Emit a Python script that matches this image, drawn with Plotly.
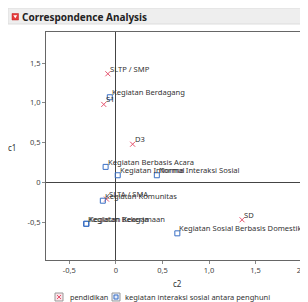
import plotly.graph_objects as go

# pendidikan (red x)
pend_labels = ["SD", "SLTP / SMP", "SLTA / SMA", "D3", "S1"]
pend_c2 = [1.355, -0.086, -0.10, 0.18, -0.13]
pend_c1 = [-0.47, 1.365, -0.21, 0.48, 0.98]

# kegiatan interaksi sosial antara penghuni (blue squares)
keg_labels = ["Kegiatan Berdagang", "Kegiatan Berbasis Acara", "Kegiatan Informal",
              "Norma Interaksi Sosial", "Kegiatan Komunitas", "Kegiatan Bekerja",
              "Kegiatan Keagamaan", "Kegiatan Sosial Berbasis Domestik"]
keg_c2 = [-0.065, -0.11, 0.02, 0.44, -0.14, -0.32, -0.315, 0.66]
keg_c1 = [1.07, 0.195, 0.09, 0.09, -0.23, -0.52, -0.52, -0.64]

legend_names = ["pendidikan", "kegiatan interaksi sosial antara penghuni"]

xtick_vals = [-0.5, 0, 0.5, 1.0, 1.5, 2.0]
xtick_text = ["-0,5", "0", "0,5", "1,0", "1,5", "2,0"]
ytick_vals = [-0.5, 0, 0.5, 1.0, 1.5]
ytick_text = ["-0,5", "0", "0,5", "1,0", "1,5"]

# page body has an 8px margin: figure is placed at (8, 8) in the window
OFF = 8
W, H = 300, 294
ML, MR, MT, MB = 38, 4, 24, 42
PW, PH = W - ML - MR, H - MT - MB

RED = "#e5546f"
BLUE = "#3a6fc4"


def px(x):
    # x given in window pixels
    return (x - OFF - ML) / PW


def py(y):
    return (H - MB - (y - OFF)) / PH


FONT = "Noto Sans"
lab_font = dict(family=FONT, size=7.6, color="#333333")

fig = go.Figure()
fig.add_trace(go.Scatter(
    x=pend_c2, y=pend_c1, mode="markers", name=legend_names[0],
    marker=dict(symbol="x-thin-open", size=5, color=RED, line=dict(width=1, color=RED)),
    cliponaxis=False, showlegend=False,
))
fig.add_trace(go.Scatter(
    x=keg_c2, y=keg_c1, mode="markers", name=legend_names[1],
    marker=dict(symbol="square-open", size=5, color=BLUE, line=dict(width=1, color=BLUE)),
    cliponaxis=False, showlegend=False,
))

annotations = []
for lx, ly, lt in list(zip(pend_c2, pend_c1, pend_labels)) + list(zip(keg_c2, keg_c1, keg_labels)):
    annotations.append(dict(x=lx, y=ly, xref="x", yref="y", text=lt, showarrow=False,
                            xanchor="left", yanchor="bottom", xshift=0, yshift=-2,
                            font=lab_font))

# title bar text
annotations.append(dict(text="<b>Correspondence Analysis</b>", xref="paper", yref="paper",
                        x=px(20), y=py(16.5), xanchor="left", yanchor="middle", showarrow=False,
                        font=dict(family=FONT, size=10, color="#222222")))
# axis titles
annotations.append(dict(text="c2", xref="paper", yref="paper", x=px(177), y=py(283),
                        xanchor="center", yanchor="middle", showarrow=False,
                        font=dict(family=FONT, size=8, color="#333333")))
annotations.append(dict(text="c1", xref="paper", yref="paper", x=px(12), y=py(147),
                        xanchor="center", yanchor="middle", showarrow=False,
                        font=dict(family=FONT, size=8, color="#333333")))
# legend texts
annotations.append(dict(text=legend_names[0], xref="paper", yref="paper", x=px(68), y=py(297),
                        xanchor="left", yanchor="middle", showarrow=False,
                        font=dict(family=FONT, size=7.3, color="#333333")))
annotations.append(dict(text=legend_names[1], xref="paper", yref="paper", x=px(123), y=py(297),
                        xanchor="left", yanchor="middle", showarrow=False,
                        font=dict(family=FONT, size=7.5, color="#333333")))

shapes = [
    # title bar
    dict(type="rect", xref="paper", yref="paper", x0=px(8), x1=px(308), y0=py(24), y1=py(8),
         fillcolor="#eeeeee", line=dict(color="#dddddd", width=1), layer="below"),
    dict(type="rect", xref="paper", yref="paper", x0=px(12), x1=px(18.5), y0=py(20), y1=py(13.5),
         fillcolor="#e53a3a", line=dict(color="#c02020", width=0.5)),
    dict(type="path", xref="paper", yref="paper",
         path=f"M {px(13.3)} {py(15.3)} L {px(17.2)} {py(15.3)} L {px(15.25)} {py(18.3)} Z",
         fillcolor="white", line=dict(width=0)),
    # legend boxes
    dict(type="rect", xref="paper", yref="paper", x0=px(55), x1=px(63), y0=py(301), y1=py(293),
         fillcolor="#fbe3e8", line=dict(color="#999999", width=1)),
    dict(type="line", xref="paper", yref="paper", x0=px(57), x1=px(61), y0=py(299), y1=py(295),
         line=dict(color=RED, width=1)),
    dict(type="line", xref="paper", yref="paper", x0=px(57), x1=px(61), y0=py(295), y1=py(299),
         line=dict(color=RED, width=1)),
    dict(type="rect", xref="paper", yref="paper", x0=px(112), x1=px(120), y0=py(301), y1=py(293),
         fillcolor="#e3ecfa", line=dict(color="#999999", width=1)),
    dict(type="rect", xref="paper", yref="paper", x0=px(114), x1=px(118), y0=py(299), y1=py(295),
         fillcolor="rgba(0,0,0,0)", line=dict(color=BLUE, width=1)),
]

axis_common = dict(
    showgrid=False, zeroline=True, zerolinecolor="#444444", zerolinewidth=1,
    showline=True, mirror=True, linecolor="#666666", linewidth=1,
    ticks="outside", ticklen=3, tickcolor="#888888", automargin=False,
    tickfont=dict(family=FONT, size=7.5, color="#444444"),
)

fig.update_layout(
    width=W, height=H,
    margin=dict(l=ML, r=MR, t=MT, b=MB, autoexpand=False),
    paper_bgcolor="white", plot_bgcolor="white",
    showlegend=False,
    xaxis=dict(range=[-0.75, 2.02], tickvals=xtick_vals, ticktext=xtick_text, **axis_common),
    yaxis=dict(range=[-0.975, 1.89], tickvals=ytick_vals, ticktext=ytick_text, **axis_common),
    shapes=shapes,
    annotations=annotations,
)

fig.write_html("out.html")
